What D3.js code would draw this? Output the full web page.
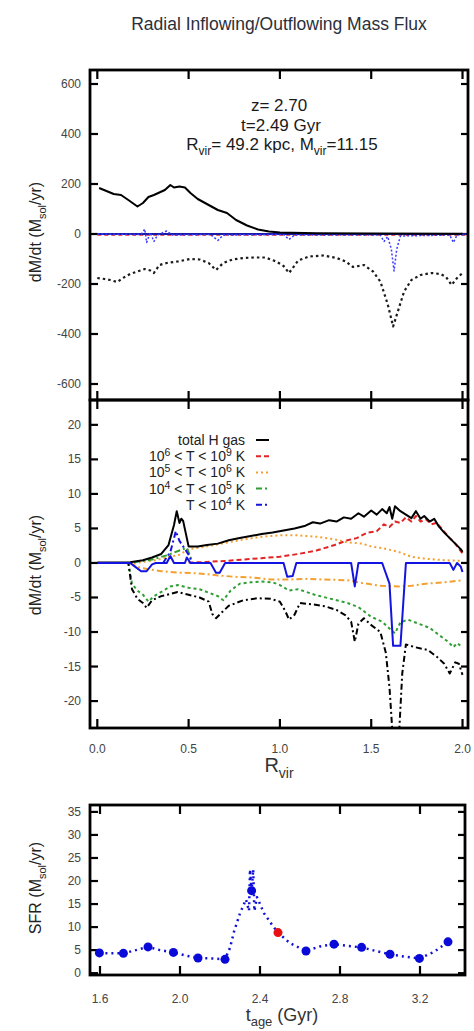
<!DOCTYPE html>
<html lang="en">
<head>
<meta charset="utf-8">
<title>Radial Inflowing/Outflowing Mass Flux</title>
<script src="https://cdn.jsdelivr.net/npm/d3@7"></script>
<style>
  body { margin: 0; background: #fff; }
  svg { display: block; }
  text { font-family: "Liberation Sans", Arial, sans-serif; }
</style>
</head>
<body>
<script>
// ---- data ----
// top panel: dM/dt in Msol/yr against R / Rvir
var topInflow = [[0.01,184],[0.05,172],[0.09,160],[0.13,156],[0.17,136],[0.22,110],[0.25,124],[0.28,148],[0.31,156],[0.34,166],[0.37,176],[0.40,196],[0.42,186],[0.45,190],[0.48,186],[0.51,164],[0.55,140],[0.60,120],[0.66,96],[0.71,84],[0.76,56],[0.82,34],[0.88,18],[0.94,10],[1.0,6],[1.2,3],[1.5,2],[2.0,1]];
var topOutflow = [[0.0,-176],[0.04,-180],[0.07,-184],[0.11,-192],[0.14,-176],[0.18,-160],[0.22,-150],[0.26,-140],[0.29,-146],[0.31,-156],[0.34,-124],[0.38,-116],[0.44,-110],[0.51,-100],[0.56,-102],[0.61,-116],[0.65,-144],[0.69,-116],[0.74,-102],[0.80,-96],[0.86,-94],[0.92,-94],[0.98,-110],[1.02,-128],[1.05,-156],[1.10,-106],[1.16,-90],[1.24,-86],[1.31,-96],[1.36,-110],[1.40,-132],[1.46,-124],[1.51,-150],[1.55,-190],[1.59,-280],[1.62,-370],[1.65,-300],[1.68,-230],[1.72,-184],[1.77,-164],[1.83,-156],[1.88,-160],[1.91,-172],[1.94,-204],[1.97,-176],[2.0,-156]];
var topCold = [[0,0],[0.24,-2],[0.26,20],[0.27,-34],[0.29,6],[0.31,-30],[0.33,-4],[0.38,12],[0.41,-4],[0.62,-2],[0.66,-26],[0.69,-4],[1.02,-2],[1.05,-22],[1.08,-4],[1.55,-4],[1.57,-30],[1.59,-10],[1.61,-60],[1.625,-148],[1.64,-60],[1.66,-8],[1.93,-4],[1.95,-34],[1.97,-4],[2.02,-2]];
var topHot = [[0,-4],[2.02,-4]];
var topColdIn = [[0,0],[2.02,0]];

// middle panel
var midTotalIn = [[0,0.05],[0.1,0.05],[0.18,0.1],[0.25,0.4],[0.30,0.8],[0.35,1.3],[0.39,2.6],[0.42,5.5],[0.435,7.5],[0.45,5.8],[0.46,6.4],[0.47,6.1],[0.50,2.4],[0.55,2.4],[0.60,2.6],[0.66,2.8],[0.72,3.3],[0.78,3.6],[0.84,3.9],[0.90,4.2],[0.96,4.4],[1.02,4.7],[1.08,5.0],[1.14,5.4],[1.18,5.9],[1.22,5.7],[1.27,6.2],[1.31,6.0],[1.35,6.6],[1.39,6.4],[1.43,7.2],[1.46,6.7],[1.50,7.6],[1.53,7.0],[1.56,7.8],[1.585,7.2],[1.60,8.1],[1.615,6.4],[1.63,8.2],[1.66,7.5],[1.69,7.0],[1.72,6.5],[1.745,7.5],[1.77,6.4],[1.79,6.8],[1.82,6.0],[1.845,6.4],[1.87,5.3],[1.90,4.4],[1.93,3.6],[1.96,2.8],[1.99,2.0],[2.0,1.6]];
var midTotalOut = [[0,0],[0.17,0],[0.19,-3.8],[0.22,-5.2],[0.25,-5.8],[0.27,-6.5],[0.30,-5.4],[0.35,-4.8],[0.40,-4.5],[0.44,-4.2],[0.50,-4.6],[0.56,-5.0],[0.61,-5.6],[0.63,-7.4],[0.65,-8.0],[0.68,-7.2],[0.72,-6.2],[0.80,-5.4],[0.88,-5.1],[0.95,-5.2],[1.0,-5.6],[1.03,-7.0],[1.05,-8.2],[1.08,-7.5],[1.11,-5.8],[1.18,-6.0],[1.25,-6.3],[1.31,-6.8],[1.36,-7.6],[1.39,-8.5],[1.41,-11.4],[1.43,-8.8],[1.46,-8.0],[1.50,-9.0],[1.55,-10.0],[1.58,-13],[1.60,-18],[1.62,-26],[1.65,-26],[1.67,-16],[1.69,-11.8],[1.74,-12.2],[1.81,-12.6],[1.86,-13.6],[1.90,-14.6],[1.93,-16.0],[1.96,-14.4],[1.98,-14.6],[2.0,-16.2]];
var midHotIn = [[0.5,0.05],[0.6,0.15],[0.7,0.3],[0.8,0.5],[0.9,0.7],[1.0,0.9],[1.1,1.3],[1.2,1.8],[1.3,2.6],[1.37,3.3],[1.42,3.6],[1.48,4.4],[1.53,4.6],[1.57,5.6],[1.60,5.2],[1.63,6.0],[1.66,5.8],[1.69,6.6],[1.72,6.0],[1.745,6.8],[1.77,6.0],[1.80,6.3],[1.83,5.6],[1.86,5.8],[1.89,4.8],[1.93,3.6],[1.96,2.8],[2.0,1.4]];
var midWarmIn = [[0.2,0],[0.3,0.3],[0.45,1.2],[0.5,2.0],[0.6,2.4],[0.7,2.9],[0.8,3.4],[0.9,3.8],[1.0,4.0],[1.1,4.0],[1.2,3.8],[1.3,3.4],[1.37,3.0],[1.45,2.8],[1.5,2.4],[1.57,2.1],[1.65,1.6],[1.72,0.9],[1.8,0.6],[1.9,0.4],[2.0,0.3]];
var midWarmOut = [[0.18,0],[0.22,-0.6],[0.28,-0.9],[0.35,-1.2],[0.45,-1.4],[0.55,-1.5],[0.66,-1.8],[0.75,-2.0],[0.85,-2.1],[0.95,-2.4],[1.05,-2.4],[1.15,-2.3],[1.25,-2.4],[1.37,-2.5],[1.45,-2.9],[1.55,-3.3],[1.65,-3.4],[1.72,-3.3],[1.8,-3.0],[1.9,-2.8],[2.0,-2.5]];
var midCoolIn = [[0.2,0.1],[0.3,0.5],[0.38,1.1],[0.45,1.8],[0.49,2.2],[0.52,0.2]];
var midCoolOut = [[0.17,0],[0.19,-3],[0.22,-4.0],[0.25,-4.6],[0.28,-5.6],[0.31,-4.8],[0.35,-4.2],[0.40,-3.4],[0.44,-3.2],[0.50,-3.6],[0.56,-3.8],[0.62,-4.4],[0.66,-4.8],[0.69,-5.4],[0.73,-4.0],[0.78,-3.0],[0.84,-2.8],[0.90,-2.7],[0.96,-2.8],[1.0,-3.2],[1.05,-4.0],[1.10,-3.8],[1.19,-4.6],[1.28,-5.2],[1.37,-5.8],[1.43,-6.4],[1.50,-7.8],[1.56,-8.5],[1.60,-9.5],[1.63,-10.2],[1.66,-8.6],[1.70,-8.2],[1.76,-8.8],[1.82,-9.4],[1.87,-10.4],[1.92,-11.4],[1.95,-12.2],[1.97,-11.6],[2.0,-12.2]];
var midColdOut = [[0,0],[0.18,0],[0.21,-0.6],[0.24,-1.2],[0.27,-1.2],[0.30,-0.2],[0.32,0],[0.38,0],[0.40,1.0],[0.42,0],[0.48,0],[0.49,0.8],[0.51,0],[0.62,0],[0.65,-1.4],[0.67,-1.4],[0.70,0],[1.02,0],[1.04,-2.0],[1.07,-1.9],[1.09,0],[1.39,0],[1.41,-3.4],[1.43,0],[1.56,0],[1.60,-3],[1.62,-12],[1.66,-12],[1.69,0],[1.93,0],[1.95,-1.0],[1.97,0],[1.99,-0.5],[2.0,-1.3]];
var midColdIn = [[0.36,0],[0.40,1.6],[0.43,4.6],[0.45,3.2],[0.47,2.4],[0.50,1.2],[0.52,0]];

var legendLabels = ["total H gas", "10^6 < T < 10^9 K", "10^5 < T < 10^6 K", "10^4 < T < 10^5 K", "T < 10^4 K"];

// bottom panel: star formation rate
var sfrTime = [1.597,1.717,1.84,1.967,2.09,2.225,2.358,2.49,2.63,2.77,2.908,3.05,3.197,3.34];
var sfrValue = [4.4,4.3,5.7,4.5,3.3,3.0,17.9,8.8,4.8,6.3,5.6,4.1,3.2,6.8];
var sfrCurrent = 7;
var sfrFineTime = [1.597,1.65,1.717,1.78,1.84,1.90,1.967,2.03,2.09,2.16,2.225,2.25,2.27,2.30,2.33,2.345,2.350,2.358,2.366,2.372,2.385,2.42,2.46,2.49,2.55,2.63,2.70,2.77,2.84,2.908,2.98,3.05,3.12,3.197,3.27,3.34];
var sfrFineValue = [4.4,4.3,4.3,5.0,5.7,5.0,4.5,3.8,3.3,3.2,3.0,5.5,9,13,16,13.5,22.5,17.9,22.5,13.5,16.5,13,10.5,8.8,6.5,4.8,5.8,6.3,5.9,5.6,4.8,4.1,3.6,3.2,4.6,6.8];

var xTicksR = [0, 0.5, 1.0, 1.5, 2.0];
var yTicksTop = [-600, -400, -200, 0, 200, 400, 600];
var yTicksMid = [-20, -15, -10, -5, 0, 5, 10, 15, 20];
var xTicksT = [1.6, 2.0, 2.4, 2.8, 3.2];
var yTicksSfr = [0, 5, 10, 15, 20, 25, 30, 35];

// ---- drawing ----
var w = 474, h = 1031;
var svg = d3.select("body").append("svg").attr("width", w).attr("height", h);

var xR = d3.scaleLinear().domain([-0.04, 2.03]).range([90, 468]);
var yTop = d3.scaleLinear().domain([-664, 656]).range([400, 70]);
var yMid = d3.scaleLinear().domain([-23.9, 23.6]).range([728, 400]);
var xT = d3.scaleLinear().domain([1.55, 3.425]).range([90, 465]);
var yS = d3.scaleLinear().domain([-0.4, 36.5]).range([975, 805]);

var tickColor = "#444";

function panel(id, x, y, xTicks, yTicks) {
	var x0 = x.range()[0], x1 = x.range()[1];
	var y0 = y.range()[1], y1 = y.range()[0];
	svg.append("clipPath").attr("id", id)
		.append("rect").attr("x", x0).attr("y", y0).attr("width", x1 - x0).attr("height", y1 - y0);
	var g = svg.append("g").attr("class", "frame");
	xTicks.forEach(function(t) {
		g.append("line").attr("x1", x(t)).attr("x2", x(t)).attr("y1", y0).attr("y2", y0 + 9);
		g.append("line").attr("x1", x(t)).attr("x2", x(t)).attr("y1", y1).attr("y2", y1 - 9);
	});
	yTicks.forEach(function(t) {
		g.append("line").attr("x1", x0).attr("x2", x0 + 8).attr("y1", y(t)).attr("y2", y(t));
		g.append("line").attr("x1", x1).attr("x2", x1 - 7).attr("y1", y(t)).attr("y2", y(t));
	});
	g.selectAll("line").attr("stroke", "#000").attr("stroke-width", 2.2);
	g.append("rect").attr("x", x0).attr("y", y0).attr("width", x1 - x0).attr("height", y1 - y0)
		.attr("fill", "none").attr("stroke", "#000").attr("stroke-width", 2.8);
	svg.append("g").selectAll("text").data(yTicks).enter().append("text")
		.attr("x", x0 - 9).attr("y", function(d) { return y(d) + 4; })
		.attr("text-anchor", "end").attr("font-size", 12).attr("fill", tickColor)
		.text(function(d) { return d; });
	return svg.append("g").attr("clip-path", "url(#" + id + ")");
}

function curve(g, x, y, data, color, width, dash) {
	var line = d3.line().x(function(d) { return x(d[0]); }).y(function(d) { return y(d[1]); });
	g.append("path").datum(data).attr("d", line)
		.attr("fill", "none").attr("stroke", color).attr("stroke-width", width)
		.attr("stroke-dasharray", dash || null).attr("stroke-linejoin", "round");
}

var RED = "#e02424", ORANGE = "#f4a030", GREEN = "#2f9e33", BLUE = "#1414e0";

// title
svg.append("text").attr("x", 279).attr("y", 30).attr("text-anchor", "middle")
	.attr("font-size", 17.5).attr("fill", "#2b2f3a").text("Radial Inflowing/Outflowing Mass Flux");

// top panel
var gTop = panel("clipTop", xR, yTop, xTicksR, yTicksTop);
curve(gTop, xR, yTop, topHot, RED, 1.5, "4,3");
curve(gTop, xR, yTop, topColdIn, "#1a1aa8", 2);
curve(gTop, xR, yTop, topCold, "#3a3aff", 1.5, "2,2");
curve(gTop, xR, yTop, topInflow, "#000", 2);
curve(gTop, xR, yTop, topOutflow, "#1a1a1a", 2.2, "2.5,3");

var ann = svg.append("g").attr("font-size", 17).attr("fill", "#1a1a1a").attr("text-anchor", "middle");
ann.append("text").attr("x", 279).attr("y", 111).text("z= 2.70");
ann.append("text").attr("x", 281).attr("y", 131).text("t=2.49 Gyr");
var rl = ann.append("text").attr("x", 282).attr("y", 150);
rl.append("tspan").text("R");
rl.append("tspan").attr("font-size", 12).attr("dy", 5).text("vir");
rl.append("tspan").attr("dy", -5).text("= 49.2 kpc, M");
rl.append("tspan").attr("font-size", 12).attr("dy", 5).text("vir");
rl.append("tspan").attr("dy", -5).text("=11.15");

// middle panel
var gMid = panel("clipMid", xR, yMid, xTicksR, yTicksMid);
curve(gMid, xR, yMid, midWarmOut, ORANGE, 2, "6,3,2,3");
curve(gMid, xR, yMid, midWarmIn, ORANGE, 2, "2,3");
curve(gMid, xR, yMid, midHotIn, RED, 2, "5,3");
curve(gMid, xR, yMid, midCoolIn, GREEN, 2, "6,3,2,3");
curve(gMid, xR, yMid, midCoolOut, GREEN, 2, "3,3");
curve(gMid, xR, yMid, midTotalOut, "#000", 2, "6,3,2,3");
curve(gMid, xR, yMid, midTotalIn, "#000", 2);
curve(gMid, xR, yMid, midColdOut, BLUE, 2);
curve(gMid, xR, yMid, midColdIn, BLUE, 2, "6,3,2,3");

// legend
var legStyles = [["#000", null], [RED, "5,3"], [ORANGE, "2,3"], [GREEN, "6,3,2,3"], [BLUE, "6,3,2,3"]];
var leg = svg.append("g");
legendLabels.forEach(function(lab, i) {
	var yy = 440 + i * 16.2;
	var t = leg.append("text").attr("x", 245).attr("y", yy + 5).attr("text-anchor", "end")
		.attr("font-size", 14).attr("fill", "#222");
	lab.split(/(\^\d)/).forEach(function(p) {
		if (p.charAt(0) === "^") {
			t.append("tspan").attr("font-size", 10.5).attr("baseline-shift", "5").text(p.slice(1));
		} else if (p.length) {
			t.append("tspan").text(p);
		}
	});
	leg.append("line").attr("x1", 256).attr("x2", 269).attr("y1", yy).attr("y2", yy)
		.attr("stroke", legStyles[i][0]).attr("stroke-width", 2)
		.attr("stroke-dasharray", legStyles[i][1]);
});

// x labels for middle panel
svg.append("g").selectAll("text").data(xTicksR).enter().append("text")
	.attr("x", function(d) { return xR(d); }).attr("y", 753)
	.attr("text-anchor", "middle").attr("font-size", 12).attr("fill", tickColor)
	.text(function(d) { return d.toFixed(1); });
var xl = svg.append("text").attr("x", 279).attr("y", 772).attr("text-anchor", "middle")
	.attr("font-size", 20).attr("fill", "#333");
xl.append("tspan").text("R");
xl.append("tspan").attr("font-size", 14).attr("dy", 6).text("vir");

// y labels
function ylabel(cx, cy, pre) {
	var t = svg.append("text").attr("transform", "translate(" + cx + "," + cy + ") rotate(-90)")
		.attr("text-anchor", "middle").attr("font-size", 16).attr("fill", "#222");
	t.append("tspan").text(pre + " (M");
	t.append("tspan").attr("font-size", 11).attr("dy", 5).text("sol");
	t.append("tspan").attr("dy", -5).text("/yr)");
}
ylabel(41, 232, "dM/dt");
ylabel(41, 565, "dM/dt");
ylabel(41, 888, "SFR");

// bottom panel
var gS = panel("clipSfr", xT, yS, xTicksT, yTicksSfr);
var fine = sfrFineTime.map(function(t, i) { return [t, sfrFineValue[i]]; });
curve(gS, xT, yS, fine, "#1010d8", 2.5, "2,4");
gS.selectAll("circle").data(sfrTime).enter().append("circle")
	.attr("cx", function(d) { return xT(d); })
	.attr("cy", function(d, i) { return yS(sfrValue[i]); })
	.attr("r", 4.5)
	.attr("fill", function(d, i) { return i === sfrCurrent ? "#e81010" : "#0a0ad8"; });

svg.append("g").selectAll("text").data(xTicksT).enter().append("text")
	.attr("x", function(d) { return xT(d); }).attr("y", 1003)
	.attr("text-anchor", "middle").attr("font-size", 12).attr("fill", tickColor)
	.text(function(d) { return d.toFixed(1); });
var tl = svg.append("text").attr("x", 282).attr("y", 1021).attr("text-anchor", "middle")
	.attr("font-size", 18).attr("fill", "#333");
tl.append("tspan").text("t");
tl.append("tspan").attr("font-size", 13).attr("dy", 5).text("age");
tl.append("tspan").attr("dy", -5).text(" (Gyr)");
</script>
</body>
</html>
